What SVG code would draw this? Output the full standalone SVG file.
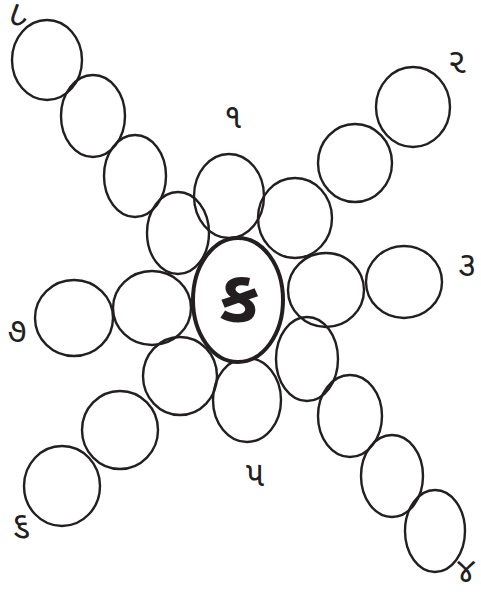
<svg xmlns="http://www.w3.org/2000/svg" width="481" height="596" viewBox="0 0 481 596">
<style>
.c{fill:none;stroke:#231f20;stroke-width:2.4}
.m{fill:#fff;stroke:#231f20;stroke-width:4}
.l{font-family:"Noto Sans Gujarati","Noto Sans","DejaVu Sans",sans-serif;font-size:34px;fill:#231f20;text-anchor:middle}
.k{font-family:"Noto Sans Gujarati","Noto Sans","DejaVu Sans",sans-serif;font-size:74px;font-weight:bold;fill:#231f20;text-anchor:middle}
</style>
<rect width="481" height="596" fill="#fff"/>
<g id="arm8">
<ellipse class="c" cx="47" cy="60" rx="35" ry="40"/>
<ellipse class="c" cx="93" cy="116" rx="32" ry="41"/>
<ellipse class="c" cx="135" cy="176" rx="31" ry="41"/>
<ellipse class="c" cx="178" cy="233" rx="31" ry="41"/>
<text class="l" x="17" y="25" transform="rotate(-25 17 17)">૮</text>
</g>
<g id="arm1">
<ellipse class="c" cx="229" cy="196" rx="35" ry="42"/>
<text class="l" x="233" y="128">૧</text>
</g>
<g id="arm2">
<ellipse class="c" cx="295" cy="218" rx="37" ry="40"/>
<ellipse class="c" cx="355" cy="163" rx="37" ry="39"/>
<ellipse class="c" cx="413" cy="107" rx="37" ry="40"/>
<text class="l" x="457" y="73">૨</text>
</g>
<g id="arm3">
<ellipse class="c" cx="326" cy="290" rx="38" ry="37"/>
<ellipse class="c" cx="404" cy="282" rx="38" ry="36"/>
<text class="l" x="467" y="276">૩</text>
</g>
<g id="arm4">
<ellipse class="c" cx="307" cy="359" rx="31" ry="42"/>
<ellipse class="c" cx="350" cy="416" rx="32" ry="41"/>
<ellipse class="c" cx="392" cy="476" rx="31" ry="41"/>
<ellipse class="c" cx="435" cy="531" rx="30" ry="41"/>
<text class="l" x="466" y="582">૪</text>
</g>
<g id="arm5">
<ellipse class="c" cx="247" cy="400" rx="34" ry="42"/>
<text class="l" x="255" y="486">૫</text>
</g>
<g id="arm6">
<ellipse class="c" cx="180" cy="376" rx="37" ry="39"/>
<ellipse class="c" cx="120" cy="430" rx="38" ry="39"/>
<ellipse class="c" cx="62" cy="486" rx="38" ry="40"/>
<text class="l" x="21" y="536">૬</text>
</g>
<g id="arm7">
<ellipse class="c" cx="152" cy="308" rx="39" ry="37"/>
<ellipse class="c" cx="74" cy="318" rx="39" ry="38"/>
<text class="l" x="17" y="342">૭</text>
</g>
<g id="center">
<ellipse class="m" cx="238" cy="300" rx="45" ry="62"/>
<text class="k" x="239" y="322">ક</text>
</g>
</svg>
